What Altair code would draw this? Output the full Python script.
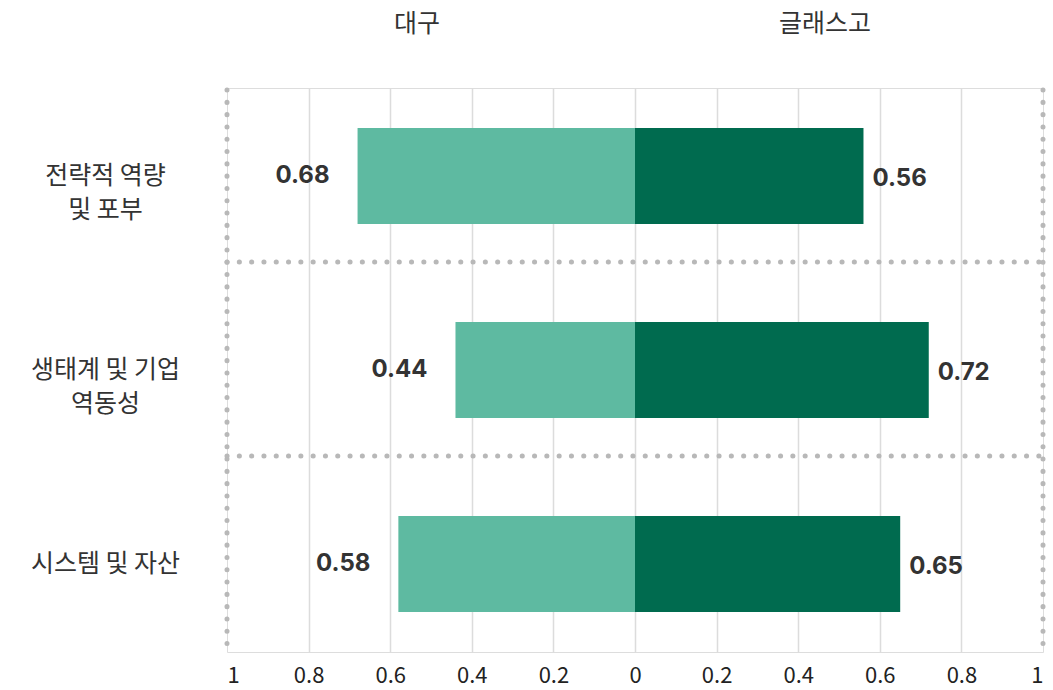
import altair as alt
import pandas as pd

categories = ["전략적 역량\n및 포부", "생태계 및 기업\n역동성", "시스템 및 자산"]
cities = ["대구", "글래스고"]
daegu = [0.68, 0.44, 0.58]
glasgow = [0.56, 0.72, 0.65]
ticks = [-1, -0.8, -0.6, -0.4, -0.2, 0, 0.2, 0.4, 0.6, 0.8, 1]
colors = ["#5ebaa1", "#006b4f"]
header_pos = [-0.5, 0.5]

rows = []
for c, d, g in zip(categories, daegu, glasgow):
    rows.append({"category": c, "city": cities[0], "value": -d, "label": f"{d:.2f}"})
    rows.append({"category": c, "city": cities[1], "value": g, "label": f"{g:.2f}"})
df = pd.DataFrame(rows)
hdr = pd.DataFrame({"city": cities, "pos": header_pos})
sep = pd.DataFrame({"category": categories[1:]})

W, H = 816, 564
KFONT = "Noto Sans CJK KR"
DOT = "#b8b8b8"

xscale = alt.Scale(domain=[-1, 1], nice=False, zero=False)
yscale = alt.Scale(domain=categories, paddingInner=0.505, paddingOuter=0.206)

bars = alt.Chart(df).mark_bar().encode(
    x=alt.X("value:Q", scale=xscale, title=None,
            axis=alt.Axis(values=ticks, grid=True, gridColor="#dcdcdc", gridWidth=1.5,
                          gridOpacity={"expr": "abs(datum.value) > 0.99 ? 0 : 1"},
                          domain=False, ticks=False, labelFontSize=22, labelFont=KFONT,
                          labelColor="#222", labelPadding=13,
                          labelExpr="format(abs(datum.value), '.1~f')")),
    y=alt.Y("category:N", sort=categories, scale=yscale, title=None,
            axis=alt.Axis(domain=False, ticks=False, grid=False, labelAlign="center",
                          labelBaseline="middle", labelPadding=122, labelLimit=400,
                          labelFontSize=25, labelFont=KFONT, labelColor="#333",
                          labelLineHeight=34,
                          labelExpr="split(datum.label, '\\n')")),
    color=alt.Color("city:N", scale=alt.Scale(domain=cities, range=colors), legend=None),
)

left_lbl = alt.Chart(df).transform_filter(alt.datum.city == cities[0]).mark_text(
    align="right", baseline="middle", dx=-28, fontSize=24, fontWeight="bold",
    font="Inter", color="#333").encode(
    x=alt.X("value:Q", scale=xscale), y=alt.Y("category:N", sort=categories, scale=yscale),
    text="label:N")

right_lbl = alt.Chart(df).transform_filter(alt.datum.city == cities[1]).mark_text(
    align="left", baseline="middle", dx=9, dy=3, fontSize=24, fontWeight="bold",
    font="Inter", color="#333").encode(
    x=alt.X("value:Q", scale=xscale), y=alt.Y("category:N", sort=categories, scale=yscale),
    text="label:N")

headers = alt.Chart(hdr).mark_text(
    align="center", baseline="middle", fontSize=25, font=KFONT, color="#333", dx=-14).encode(
    x=alt.X("pos:Q", scale=xscale), y=alt.value(-64), text="city:N")

hsep = alt.Chart(sep).mark_rule(
    color=DOT, strokeWidth=5, strokeDash=[0.1, 12.2], strokeCap="round", yOffset=-60).encode(
    x=alt.datum(-1), x2=alt.datum(1),
    y=alt.Y("category:N", sort=categories, scale=yscale, bandPosition=0))

vsep = alt.Chart(pd.DataFrame({"edge": [-1, 1]})).mark_rule(
    color=DOT, strokeWidth=5, strokeDash=[0.1, 12.2], strokeCap="round").encode(
    x=alt.X("edge:Q", scale=xscale), y=alt.value(2), y2=alt.value(H - 2))

chart = alt.layer(bars, hsep, vsep, left_lbl, right_lbl, headers).properties(
    width=W, height=H, autosize="none",
    padding={"left": 227, "top": 88, "right": 10, "bottom": 38},
).configure_view(stroke=None).configure(background="white")

chart.save("out.html", embed_options={"renderer": "svg", "actions": False})
